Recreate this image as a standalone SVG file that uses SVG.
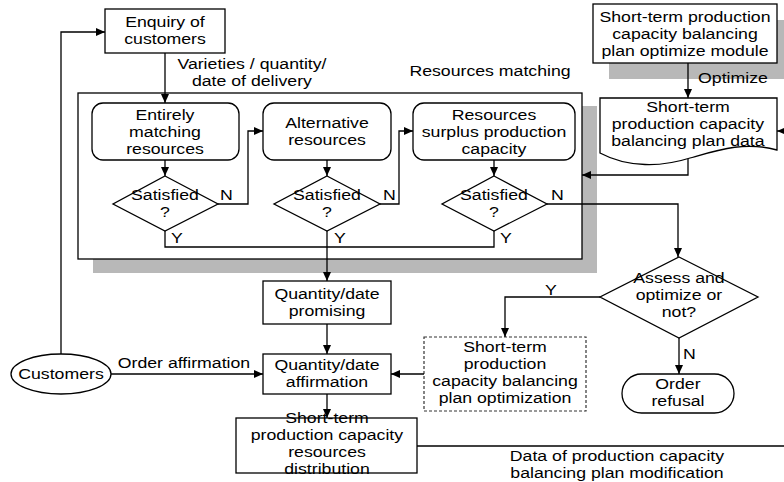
<svg xmlns="http://www.w3.org/2000/svg" width="784" height="482" viewBox="0 0 784 482">
<style>
text{font-family:"Liberation Sans",Arial,sans-serif;font-size:15px;fill:#000;text-anchor:middle;transform-box:fill-box;transform-origin:center;transform:scaleX(1.18)}
.box{fill:#fff;stroke:#000;stroke-width:1.3}
.sh{fill:#b8b8b8}
.ln{fill:none;stroke:#000;stroke-width:1.3}
.dot{fill:#fff;stroke:#333;stroke-width:1.2;stroke-dasharray:3,2}
.l{text-anchor:start}
</style>
<defs>
<marker id="ah" markerWidth="9" markerHeight="8" refX="9" refY="4" orient="auto" markerUnits="userSpaceOnUse">
<path d="M0,0 L9,4 L0,8 Z" fill="#000"/>
</marker>
</defs>

<g id="matching-frame">
<rect class="sh" x="93" y="106" width="504" height="167"/>
<rect class="box" x="78" y="93" width="504" height="166"/>
<text x="490" y="76">Resources matching</text>
</g>

<g id="optimize-module">
<rect class="sh" x="609" y="20" width="184" height="59"/>
<rect class="box" x="593" y="4" width="184" height="59"/>
<text x="685" y="22">Short-term production</text>
<text x="685" y="39">capacity balancing</text>
<text x="685" y="56">plan optimize module</text>
</g>

<g id="plan-data">
<path class="box" d="M600,98 H777 V150 C745,141 718,150 690,158 C662,167 628,168 600,153 Z"/>
<text x="688" y="112">Short-term</text>
<text x="688" y="129">production capacity</text>
<text x="688" y="146">balancing plan data</text>
</g>

<g id="enquiry">
<rect class="box" x="105" y="9" width="120" height="44"/>
<text x="165" y="27">Enquiry of</text>
<text x="165" y="44">customers</text>
</g>

<g id="entirely">
<rect class="box" x="92" y="103" width="147" height="57" rx="11"/>
<text x="165" y="120">Entirely</text>
<text x="165" y="137">matching</text>
<text x="165" y="154">resources</text>
</g>

<g id="alternative">
<rect class="box" x="263" y="103" width="128" height="57" rx="11"/>
<text x="327" y="128">Alternative</text>
<text x="327" y="145">resources</text>
</g>

<g id="surplus">
<rect class="box" x="413" y="103" width="162" height="57" rx="11"/>
<text x="494" y="120">Resources</text>
<text x="494" y="137">surplus production</text>
<text x="494" y="154">capacity</text>
</g>

<g id="sat1">
<path class="box" d="M165,176 L218,204 L165,231 L113,204 Z"/>
<text x="165" y="200">Satisfied</text>
<text x="165" y="217">?</text>
</g>
<g id="sat2">
<path class="box" d="M327,176 L380,204 L327,231 L274,204 Z"/>
<text x="327" y="200">Satisfied</text>
<text x="327" y="217">?</text>
</g>
<g id="sat3">
<path class="box" d="M494,176 L547,204 L494,231 L442,204 Z"/>
<text x="494" y="200">Satisfied</text>
<text x="494" y="217">?</text>
</g>

<g id="promising">
<rect class="box" x="263" y="281" width="128" height="43"/>
<text x="327" y="299">Quantity/date</text>
<text x="327" y="316">promising</text>
</g>

<g id="affirmation">
<rect class="box" x="263" y="354" width="128" height="40"/>
<text x="327" y="370">Quantity/date</text>
<text x="327" y="387">affirmation</text>
</g>

<g id="customers">
<ellipse class="box" cx="61" cy="374" rx="50" ry="20"/>
<text x="61" y="379">Customers</text>
</g>

<g id="distribution">
<rect class="box" x="236" y="418" width="181" height="55"/>
<text x="327" y="423">Short-term</text>
<text x="327" y="440">production capacity</text>
<text x="327" y="457">resources</text>
<text x="327" y="474">distribution</text>
</g>

<g id="assess">
<path class="box" d="M679,257 L758,297 L679,338 L600,297 Z"/>
<text x="679" y="283">Assess and</text>
<text x="679" y="300">optimize or</text>
<text x="679" y="317">not?</text>
</g>

<g id="plan-optimization">
<rect class="dot" x="424" y="337" width="162" height="74"/>
<text x="505" y="352">Short-term</text>
<text x="505" y="369">production</text>
<text x="505" y="386">capacity balancing</text>
<text x="505" y="403">plan optimization</text>
</g>

<g id="refusal">
<rect class="box" x="622" y="374" width="112" height="39" rx="19.5"/>
<text x="678" y="389">Order</text>
<text x="678" y="406">refusal</text>
</g>

<g id="connectors">
<path class="ln" d="M61,354 V32 H105" marker-end="url(#ah)"/>
<path class="ln" d="M165,53 V103" marker-end="url(#ah)"/>
<path class="ln" d="M165,160 V176" marker-end="url(#ah)"/>
<path class="ln" d="M327,160 V176" marker-end="url(#ah)"/>
<path class="ln" d="M494,160 V176" marker-end="url(#ah)"/>
<path class="ln" d="M218,204 H248 V131 H263" marker-end="url(#ah)"/>
<path class="ln" d="M380,204 H399 V131 H413" marker-end="url(#ah)"/>
<path class="ln" d="M547,204 H678 V257" marker-end="url(#ah)"/>
<path class="ln" d="M165,231 V247 H327"/>
<path class="ln" d="M494,231 V247 H327"/>
<path class="ln" d="M327,231 V281" marker-end="url(#ah)"/>
<path class="ln" d="M327,324 V354" marker-end="url(#ah)"/>
<path class="ln" d="M111,374 H263" marker-end="url(#ah)"/>
<path class="ln" d="M424,374 H391" marker-end="url(#ah)"/>
<path class="ln" d="M327,394 V418" marker-end="url(#ah)"/>
<path class="ln" d="M417,446 H784"/>
<path class="ln" d="M790,131 H777" marker-end="url(#ah)"/>
<path class="ln" d="M688,63 V98" marker-end="url(#ah)"/>
<path class="ln" d="M688,159 V175 H582" marker-end="url(#ah)"/>
<path class="ln" d="M600,297 H505 V337" marker-end="url(#ah)"/>
<path class="ln" d="M679,338 V374" marker-end="url(#ah)"/>
<text x="252" y="69">Varieties / quantity/</text>
<text x="252" y="86">date of delivery</text>
<text x="733" y="83">Optimize</text>
<text x="184" y="368">Order affirmation</text>
<text x="617" y="461">Data of production capacity</text>
<text x="617" y="478">balancing plan modification</text>
<text class="l" x="221" y="200">N</text>
<text class="l" x="384" y="200">N</text>
<text class="l" x="552" y="200">N</text>
<text class="l" x="172" y="243">Y</text>
<text class="l" x="335" y="243">Y</text>
<text class="l" x="501" y="243">Y</text>
<text x="551" y="295">Y</text>
<text class="l" x="684" y="359">N</text>
</g>
</svg>
